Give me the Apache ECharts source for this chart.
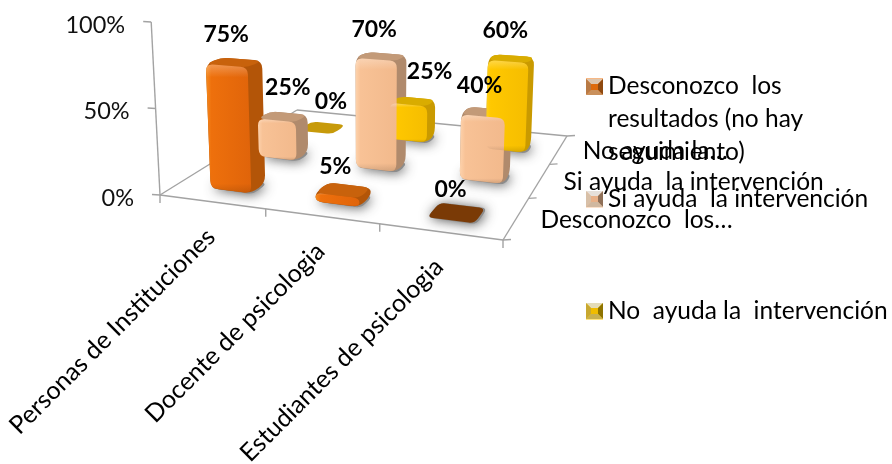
<!DOCTYPE html>
<html><head><meta charset="utf-8">
<style>html,body{margin:0;padding:0;background:#fff}#c{width:892px;height:464px}</style>
<script src="https://cdn.jsdelivr.net/npm/echarts@6/dist/echarts.min.js"></script>
</head><body><div id="c"></div>
<script>
// ---- data ----
const categories = ['Personas de Instituciones', 'Docente de psicologia', 'Estudiantes de psicologia'];
const seriesDesconozco = [75, 5, 0];
const seriesSiAyuda = [25, 70, 40];
const seriesNoAyuda = [0, 25, 60];
const nameDesconozco = 'Desconozco  los resultados (no hay seguimiento)';
const nameSiAyuda = 'Si ayuda  la intervención';
const nameNoAyuda = 'No  ayuda la  intervención';
const depthLabels = ['Desconozco  los…', 'Si ayuda  la intervención', 'No ayuda la…'];
const yTicks = [0, 50, 100];

// ---- layout & style ----
const FONT = 'Lato, "Noto Sans", sans-serif';
const FLOOR = { A: [160, 195], B: [503, 240], C: [567, 136], D: [297, 110] };
const GRID = { left: 160, width: 343, top: 22, height: 173 };
const PALETTE = {
  orange: { front: ['#f58a1e', '#ee700c', '#e0640a'], top: '#c8620c', side: '#b35508', flat: '#7a3a06' },
  peach: { front: ['#fdd2ac', '#f8c296', '#f2b98c'], top: '#c39a78', side: '#b08a6c', flat: '#b08a6c' },
  gold: { front: ['#ffd21e', '#ffc800', '#f5bd00'], top: '#d9ac00', side: '#c99a00', flat: '#c79a0a' }
};
// hand-placed data label nudges, [row][category] px from the default spot
const LABEL_NUDGE = [
  [[-8, 3], [-8, 7], [-6, 8]],
  [[5, 2], [-7, 4], [-7, 4]],
  [[9, 5], [17, 1], [-6, 3]]
];
const BAR_SCALE = 0.98, BAR_DROP = 2;

// perspective mapping of the chart floor (u along categories, v along depth)
function makeProjection() {
  const { A, B, C, D } = FLOOR;
  const dx1 = B[0] - C[0], dx2 = D[0] - C[0], sx = A[0] - B[0] + C[0] - D[0];
  const dy1 = B[1] - C[1], dy2 = D[1] - C[1], sy = A[1] - B[1] + C[1] - D[1];
  const det = dx1 * dy2 - dx2 * dy1;
  const g = (sx * dy2 - dx2 * sy) / det, h = (dx1 * sy - sx * dy1) / det;
  const a = B[0] * (1 + g) - A[0], b = D[0] * (1 + h) - A[0];
  const c = B[1] * (1 + g) - A[1], d = D[1] * (1 + h) - A[1];
  return function (u, v, px) {
    const w = 1 + g * u + h * v;
    const x = (A[0] + a * u + b * v) / w, y = (A[1] + c * u + d * v) / w;
    const up = (px || 0) / w;
    return [x + 0.00024 * (x - 372) * up, y - up];
  };
}
const project = makeProjection();

function roundedPath(pts, r) {
  const n = pts.length; let s = '';
  for (let i = 0; i < n; i++) {
    const p = pts[i], a = pts[(i + n - 1) % n], b = pts[(i + 1) % n];
    const la = Math.hypot(a[0] - p[0], a[1] - p[1]) || 1, lb = Math.hypot(b[0] - p[0], b[1] - p[1]) || 1;
    const ra = Math.min(r, la / 2), rb = Math.min(r, lb / 2);
    const p1 = [p[0] + (a[0] - p[0]) * ra / la, p[1] + (a[1] - p[1]) * ra / la];
    const p2 = [p[0] + (b[0] - p[0]) * rb / lb, p[1] + (b[1] - p[1]) * rb / lb];
    s += (i ? 'L' : 'M') + p1[0].toFixed(1) + ' ' + p1[1].toFixed(1) + 'Q' + p[0].toFixed(1) + ' ' + p[1].toFixed(1) + ' ' + p2[0].toFixed(1) + ' ' + p2[1].toFixed(1);
  }
  return s + 'Z';
}
function poly(pts, r, style, z2) {
  return { type: 'path', z2: z2, shape: { pathData: roundedPath(pts, r) }, style: style };
}

const HALF_U = 0.066, HALF_V = 0.048;
function barRenderer(row, colors, values) {
  return function (params, api) {
    const cat = api.value(0), val = api.value(1);
    const pt = api.coord([cat, val]);
    const u = (pt[0] - GRID.left) / GRID.width;
    const v = (row + 0.5) / 3;
    const px = (GRID.top + GRID.height - pt[1]) * BAR_SCALE;
    const hv = val === 0 ? HALF_V * 1.3 : HALF_V;
    const u0 = u - HALF_U, u1 = u + HALF_U, v0 = v - hv, v1 = v + hv;
    const at = (a, b, h) => { const p = project(a, b, h); return [p[0], p[1] + BAR_DROP]; };
    const fbl = at(u0, v0), fbr = at(u1, v0), bbr = at(u1, v1), bbl = at(u0, v1);
    const ftl = at(u0, v0, px), ftr = at(u1, v0, px), btr = at(u1, v1, px), btl = at(u0, v1, px);
    const out = [];
    if (!(val === 0 && row === 2)) {
      out.push(poly([fbl, [fbr[0] + 2, fbr[1] + 1], [bbr[0] + 2, bbr[1]], bbl], 6,
        { fill: '#8c8c8c', shadowBlur: 12, shadowColor: 'rgba(60,60,60,0.85)', shadowOffsetX: 1, shadowOffsetY: 1 }, 1));
    }
    if (val === 0) {
      out.push(poly([fbl, fbr, bbr, bbl], 6, { fill: colors.flat }, 2));
    } else {
      out.push(poly([fbl, fbr, bbr, btr, btl, ftl], 8, { fill: colors.side }, 2));
      out.push(poly([ftl, ftr, btr, btl], 7, { fill: colors.top }, 3));
      out.push(poly([fbl, fbr, ftr, ftl], 7, {
        fill: new echarts.graphic.LinearGradient(0, 0, 1, 0, [
          { offset: 0, color: colors.front[0] }, { offset: 0.12, color: colors.front[1] },
          { offset: 1, color: colors.front[2] }])
      }, 4));
      out.push(poly([fbl, fbr, ftr, ftl], 7, {
        fill: new echarts.graphic.LinearGradient(0, 0, 0, 1, [
          { offset: 0, color: 'rgba(255,255,255,0.28)' }, { offset: 0.1, color: 'rgba(255,255,255,0)' },
          { offset: 0.93, color: 'rgba(0,0,0,0)' }, { offset: 1, color: 'rgba(0,0,0,0.12)' }])
      }, 5));
    }
    const top = at(u, v, px);
    const n = LABEL_NUDGE[row][cat];
    out.push({ type: 'text', z2: 50, x: top[0] + n[0], y: top[1] - 31 + n[1], style: {
      text: values[cat] + '%', fontFamily: FONT, fontWeight: 'bold', fontSize: 23,
      fill: '#000', align: 'center', verticalAlign: 'middle' } });
    return { type: 'group', children: out };
  };
}

function frameRenderer(params, api) {
  const out = [];
  const grey = { stroke: '#a3a3a3', lineWidth: 1.4, fill: 'none' };
  const line = (p, q) => ({ type: 'line', z2: 0, shape: { x1: p[0], y1: p[1], x2: q[0], y2: q[1] }, style: grey });
  const A = project(0, 0), B = project(1, 0), C = project(1, 1), D = project(0, 1);
  out.push(line(A, B), line(B, C), line(C, D), line(D, A));
  // value axis
  const base = api.coord([0, 0])[1];
  const px100 = base - api.coord([0, yTicks[yTicks.length - 1]])[1];
  out.push(line(A, project(0, 0, px100)));
  yTicks.forEach(t => {
    const p = project(0, 0, base - api.coord([0, t])[1]);
    out.push(line(p, [p[0] - 8, p[1] - 0.5]));
    out.push({ type: 'text', z2: 50, x: p[0] - 26, y: p[1] + 3, style: { text: t + '%', fontFamily: FONT, fontSize: 23.5,
      fill: '#111', align: 'right', verticalAlign: 'middle' } });
  });
  // category axis
  for (let i = 0; i <= categories.length; i++) {
    const p = project(i / categories.length, 0);
    out.push(line(p, [p[0], p[1] + 8]));
  }
  categories.forEach((c, i) => {
    const p = project((i + 0.5) / categories.length, 0);
    out.push({ type: 'text', z2: 50, x: p[0] - 1, y: p[1] + 31, rotation: Math.PI / 4, style: {
      text: c, fontFamily: FONT, fontSize: 25, fill: '#000', align: 'right', verticalAlign: 'middle' } });
  });
  // depth axis
  for (let i = 0; i <= depthLabels.length; i++) {
    const p = project(1, i / depthLabels.length);
    out.push(line(p, [p[0] + 8, p[1] - 0.5]));
  }
  depthLabels.forEach((c, i) => {
    const p = project(1, (i + 0.5) / depthLabels.length);
    out.push({ type: 'text', z2: 50, x: p[0] + 24, y: p[1] + 2, style: {
      text: c, fontFamily: FONT, fontSize: 24.5, fill: '#000', align: 'left', verticalAlign: 'middle' } });
  });
  return { type: 'group', children: out };
}

function barSeries(name, values, row, colors) {
  return {
    type: 'custom', name: name, coordinateSystem: 'cartesian2d', clip: false,
    itemStyle: { color: colors.front[1] },
    encode: { x: 0, y: 1 },
    data: values.map((v, i) => [i, v]),
    renderItem: barRenderer(row, colors, values)
  };
}
function legendFor(name, top, formatter) {
  return { show: true, data: [name], orient: 'vertical', left: 586, top: top, itemWidth: 17, itemHeight: 16, itemGap: 0,
    selectedMode: false, icon: 'rect', formatter: formatter || '{name}', padding: 0,
    textStyle: { fontFamily: FONT, fontSize: 24.5, lineHeight: 24, color: '#000' } };
}
function swatch(y, cols) {
  const x = 586, s = 17, m = 5, h = 16, tri = (pts, fill) => ({ type: 'polygon', shape: { points: pts }, style: { fill: fill } });
  return { type: 'group', z: 20, children: [
    tri([[x, y], [x + s, y], [x + s - m, y + m], [x + m, y + m]], cols[0]),
    tri([[x, y], [x + m, y + m], [x + m, y + h - m], [x, y + h]], cols[1]),
    tri([[x + s, y], [x + s, y + h], [x + s - m, y + h - m], [x + s - m, y + m]], cols[2]),
    tri([[x, y + h], [x + m, y + h - m], [x + s - m, y + h - m], [x + s, y + h]], cols[3]),
    { type: 'rect', shape: { x: x + m, y: y + m, width: s - 2 * m, height: h - 2 * m }, style: { fill: cols[4] } }
  ].map(e => Object.assign(e, { z: 20 })) };
}

const chart = echarts.init(document.getElementById('c'), null, { renderer: 'canvas' });
chart.setOption({
  animation: false,
  backgroundColor: '#fff',
  grid: { left: GRID.left, width: GRID.width, top: GRID.top, height: GRID.height },
  xAxis: { type: 'category', data: categories, show: false },
  yAxis: { type: 'value', min: 0, max: 100, interval: 50, show: false },
  legend: [
    legendFor(nameDesconozco, 74, () => 'Desconozco  los'),
    legendFor(nameSiAyuda, 187),
    legendFor(nameNoAyuda, 299)
  ],
  graphic: [
    { type: 'text', z: 20, left: 608, top: 102.5, style: { text: 'resultados (no hay\nseguimiento)', lineHeight: 33, fontFamily: FONT, fontSize: 24.5, fill: '#000' } },
    swatch(79, ['#dcc4ac', '#b87a45', '#8f4a10', '#c9905c', '#dd6a0c']),
    swatch(191, ['#e6e0da', '#d8c0a8', '#8f7058', '#d0b8a0', '#e8b088']),
    swatch(303, ['#e4dcb8', '#c8a830', '#8f7400', '#c8b050', '#f0bc00'])
  ],
  series: [
    { type: 'custom', name: 'frame', coordinateSystem: 'cartesian2d', clip: false, silent: true, encode: { x: 0, y: 1 }, data: [[0, 0]], renderItem: frameRenderer },
    barSeries(nameNoAyuda, seriesNoAyuda, 2, PALETTE.gold),
    barSeries(nameSiAyuda, seriesSiAyuda, 1, PALETTE.peach),
    barSeries(nameDesconozco, seriesDesconozco, 0, PALETTE.orange)
  ]
});
</script></body></html>
